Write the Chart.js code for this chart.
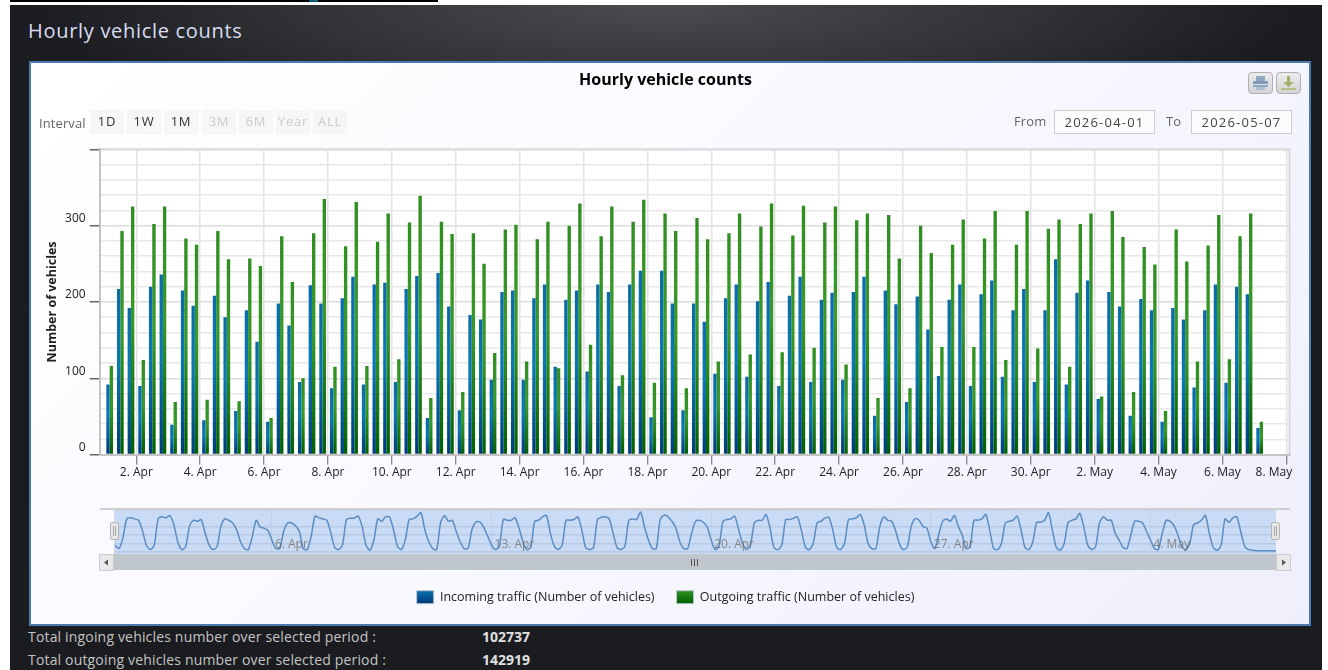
<!DOCTYPE html>
<html>
<head>
<meta charset="utf-8">
<title>Hourly vehicle counts</title>
<script src="https://cdn.jsdelivr.net/npm/chart.js@4"></script>
<style>
html, body { margin:0; padding:0; background:#fff; overflow:hidden; }
body { width:1328px; height:670px; position:relative; font-family:"Open Sans", sans-serif; }
div, span, canvas, svg { position:absolute; box-sizing:border-box; }
#topbar { left:10px; top:0; width:428px; height:2px; background:#000; }
#topmark { left:309px; top:0; width:9px; height:2px; background:#0d5a7a; }
#page { left:10px; top:5px; width:1312px; height:665px; background:radial-gradient(ellipse 640px 130px at 655px 0px, #4c4c50 0%, #303135 60%, #1b1c20 100%), #1b1c20; }
#head { left:28px; top:18px; font-size:20px; line-height:26px; color:#d9def2; white-space:nowrap; letter-spacing:0.7px; }
#panel { left:29px; top:61px; width:1282px; height:565px; border:2px solid #4a7bb0; background:linear-gradient(135deg, #ffffff 0%, #f8f8ff 50%, #efeffc 100%); }
#main { left:30px; top:62px; }
#navtop { left:100px; top:508px; width:1190px; height:2px; background:#cfcfcf; }
#navbg { left:114px; top:510px; width:1162px; height:44px; background:#c9dbf5; }
#nav { left:114.7px; top:510px; }
.hnd { top:522px; width:9px; height:18px; background:#e6e6e6; border:1px solid #b5b5b5; border-radius:2px; z-index:3; }
.hnd i { position:absolute; top:3px; width:1px; height:10px; background:#aaa; }
#track { left:114px; top:554px; width:1162px; height:16px; background:#bfc6cc; }
.sbtn { top:554px; width:15px; height:17px; background:#e9e9e9; border:1px solid #ccc; }
.grip { top:559px; width:1px; height:7px; background:#555; }
.lbl { font-size:13px; line-height:16px; color:#666; white-space:nowrap; letter-spacing:0.1px; }
.rbtn { top:110px; width:34px; height:24px; background:#f6f6f6; font-size:13px; line-height:23px; text-align:center; color:#333; letter-spacing:0.8px; }
.rbtn.off { color:#ccc; }
.dbox { top:110px; width:101px; height:24px; border:1px solid #ccc; font-size:13px; line-height:22px; text-align:center; color:#444; background:#fcfcff; letter-spacing:1.2px; }
.ico { top:72px; width:25px; height:22px; background:linear-gradient(#ececec,#d4d4d4); border:1px solid #b0b0b0; border-radius:4px; }
.sum { left:28px; font-size:14px; line-height:18px; color:#c4c4c4; white-space:nowrap; letter-spacing:0.17px; }
.val { left:482px; font-size:14px; line-height:18px; font-weight:bold; color:#e0e0e0; }
</style>
</head>
<body>
<div id="topbar"></div><div id="topmark"></div>
<div id="page"></div>
<div id="head">Hourly vehicle counts</div>
<div id="panel"></div>
<canvas id="main" width="1280" height="563"></canvas>

<div class="ico" style="left:1248px">
	<svg width="23" height="20" style="left:0;top:0"><rect x="7" y="3" width="9" height="5" fill="#8fa9c4"/><rect x="4" y="8" width="15" height="3" fill="#7f9bb8"/><rect x="4" y="12" width="15" height="2" fill="#8fa9c4"/><rect x="7" y="14" width="9" height="3" fill="#a9bfd4"/></svg>
</div>
<div class="ico" style="left:1276px">
	<svg width="23" height="20" style="left:0;top:0"><rect x="10" y="3" width="3" height="6" fill="#9fb06a"/><path d="M6 9h11l-5.5 5z" fill="#9fb06a"/><rect x="4" y="15" width="15" height="2" fill="#b3c184"/></svg>
</div>

<div class="lbl" style="left:39px;top:115px">Interval</div>
<div class="rbtn" style="left:90px">1D</div>
<div class="rbtn" style="left:127px">1W</div>
<div class="rbtn" style="left:164px">1M</div>
<div class="rbtn off" style="left:202px">3M</div>
<div class="rbtn off" style="left:239px">6M</div>
<div class="rbtn off" style="left:276px">Year</div>
<div class="rbtn off" style="left:313px">ALL</div>
<div class="lbl" style="left:1014px;top:113px">From</div>
<div class="dbox" style="left:1054px">2026-04-01</div>
<div class="lbl" style="left:1166px;top:113px">To</div>
<div class="dbox" style="left:1191px">2026-05-07</div>

<div id="navbg"></div>
<div id="navtop"></div>
<canvas id="nav" width="1161" height="56"></canvas>
<div id="track"></div>
<div class="sbtn" style="left:99px"><svg width="13" height="15" style="left:0;top:0"><path d="M4 7.5l4-3v6z" fill="#555"/></svg></div>
<div class="sbtn" style="left:1276px"><svg width="13" height="15" style="left:0;top:0"><path d="M9 7.5l-4-3v6z" fill="#555"/></svg></div>
<div class="grip" style="left:691px"></div><div class="grip" style="left:694px"></div><div class="grip" style="left:697px"></div>
<div class="hnd" style="left:110px"><i style="left:2px"></i><i style="left:4px"></i></div>
<div class="hnd" style="left:1271px"><i style="left:2px"></i><i style="left:4px"></i></div>

<div class="sum" style="top:628px">Total ingoing vehicles number over selected period :</div>
<div class="val" style="top:628px">102737</div>
<div class="sum" style="top:651px">Total outgoing vehicles number over selected period :</div>
<div class="val" style="top:651px">142919</div>

<script>
//8 hour groups
var incoming = [
	92,217,192, 90,220,236, 39,215,195, 45,208,180, 57,189,148, 43,198,169,
	95,222,198, 87,205,233, 92,223,225, 95,217,234, 48,238,194, 58,183,177,
	98,213,215, 98,205,223, 115,203,215, 109,223,213, 90,223,241, 49,241,198,
	58,198,174, 106,205,223, 102,201,226, 90,208,233, 95,203,212, 98,213,233,
	51,215,197, 69,207,164, 103,203,223, 90,210,228, 102,189,217, 95,189,256,
	92,212,228, 73,213,194, 51,204,189, 43,192,177, 88,189,223, 94,220,210, 35
];
var outgoing = [
	116,293,325, 124,302,325, 69,283,275, 72,293,256, 70,257,247, 48,286,226,
	100,290,335, 115,273,331, 116,279,316, 125,304,339, 74,305,289, 82,290,250,
	133,295,301, 122,282,305, 113,300,329, 144,286,325, 104,305,334, 94,316,293,
	87,310,282, 122,290,316, 131,299,329, 134,287,326, 140,304,325, 118,307,316,
	74,314,257, 87,300,264, 141,275,308, 141,283,319, 124,275,319, 139,296,308,
	115,302,316, 76,319,285, 82,272,249, 57,295,253, 122,274,314, 125,286,316, 43
];
var xTickLabels = [
	"2. Apr","4. Apr","6. Apr","8. Apr","10. Apr","12. Apr","14. Apr","16. Apr",
	"18. Apr","20. Apr","22. Apr","24. Apr","26. Apr","28. Apr","30. Apr",
	"2. May","4. May","6. May","8. May"
];
var legendNames = ["Incoming traffic (Number of vehicles)", "Outgoing traffic (Number of vehicles)"];

//navigator line, one sample every 3 hours
var navValues = [
	20,10,40,97,100,97,93,63, 20,7,20,97,103,100,107,80, 30,7,15,75,93,90,95,55,
	20,7,15,75,97,93,85,65, 30,10,7,45,93,73,70,63, 35,10,10,60,85,85,77,60,
	10,7,45,105,100,97,93,57, 13,7,20,95,99,99,105,75, 20,5,35,97,90,103,103,65,
	17,7,35,95,97,105,115,65, 30,10,7,85,107,90,93,60, 30,10,10,65,88,88,73,47,
	20,7,17,95,93,93,100,70, 30,7,15,90,93,103,107,55, 17,7,20,93,93,95,103,65,
	13,7,13,95,102,103,97,55, 13,7,17,93,97,95,117,73, 35,10,10,95,108,103,90,70,
	30,10,10,55,90,93,87,73, 35,7,17,90,95,97,105,65, 25,7,20,85,93,93,110,70,
	13,7,20,95,95,99,103,63, 15,7,25,85,90,99,101,65, 13,7,25,95,97,100,110,80,
	25,10,10,75,103,93,90,63, 23,7,15,75,98,93,75,70, 30,10,50,90,97,90,107,75,
	50,10,15,93,93,97,110,65, 10,7,25,85,90,93,105,65, 13,7,30,87,87,93,115,63,
	13,5,25,87,93,97,113,73, 20,7,15,85,103,93,93,55, 35,13,10,50,91,90,85,60,
	35,10,7,55,93,90,77,50, 15,7,25,80,85,93,107,55, 13,5,20,97,87,100,103,60,
	17,7,5,4,4,4,4,4, 4
];
var navTickLabels = ["6. Apr","13. Apr","20. Apr","27. Apr","4. May"];

var fontName = "'Open Sans', sans-serif";

function toPoints(values, first, step){
	var pts = [];
	values.forEach(function(v, i){ pts.push({x: first + i * step, y: v}); });
	return pts;
}

//every bar gets its own top to bottom gradient
function barFill(stops){
	return function(c){
		if(!c.parsed || !c.chart.scales.y) return stops[1];
		var y = c.chart.scales.y;
		var g = c.chart.ctx.createLinearGradient(0, y.getPixelForValue(c.parsed.y), 0, y.getPixelForValue(0));
		g.addColorStop(0, stops[0]);
		g.addColorStop(0.45, stops[1]);
		g.addColorStop(1, stops[2]);
		return g;
	};
}
var blueStops = ["#0b6ba8", "#0a78b4", "#003c7c"];
var greenStops = ["#2f8e20", "#399a28", "#006000"];

//white plot with a thin frame
var plotFrame = {
	id: "plotFrame",
	beforeDraw: function(chart){
		var a = chart.chartArea, ctx = chart.ctx;
		ctx.save();
		ctx.fillStyle = "#fff";
		ctx.fillRect(a.left, a.top, a.right - a.left, a.bottom - a.top);
		ctx.strokeStyle = "#d8d8d8";
		ctx.lineWidth = 2;
		ctx.beginPath();
		ctx.moveTo(a.left, a.top);
		ctx.lineTo(a.right, a.top);
		ctx.lineTo(a.right, a.bottom);
		ctx.stroke();
		ctx.restore();
	}
};

new Chart(document.getElementById("main"), {
	type: "bar",
	plugins: [plotFrame],
	data: {
		datasets: [
			{ label: legendNames[0], data: toPoints(incoming, 4, 8), backgroundColor: barFill(blueStops), categoryPercentage: 0.63, barPercentage: 1 },
			{ label: legendNames[1], data: toPoints(outgoing, 4, 8), backgroundColor: barFill(greenStops), categoryPercentage: 0.63, barPercentage: 1 }
		]
	},
	options: {
		responsive: false,
		animation: false,
		layout: { autoPadding: false, padding: { left: 11.5, right: 20.5, top: 0, bottom: 11.3 } },
		plugins: {
			tooltip: { enabled: false },
			title: {
				display: true,
				text: "Hourly vehicle counts",
				color: "#000",
				font: { family: fontName, size: 16, weight: "bold" },
				padding: { top: 8.4, bottom: 59.7 }
			},
			legend: {
				position: "bottom",
				labels: {
					boxWidth: 17,
					boxHeight: 13,
					padding: 22,
					color: "#222",
					font: { family: fontName, size: 12.5 },
					generateLabels: function(chart){
						var stops = [blueStops, greenStops];
						return legendNames.map(function(name, i){
							var g = chart.ctx.createLinearGradient(0, 527, 0, 541);
							g.addColorStop(0, stops[i][1]);
							g.addColorStop(1, stops[i][2]);
							return { text: name, fillStyle: g, strokeStyle: "#b9c4d0", lineWidth: 1, datasetIndex: i, fontColor: "#222" };
						});
					}
				}
			}
		},
		scales: {
			x: {
				type: "linear",
				min: -3.5,
				max: 890.4,
				offset: false,
				afterBuildTicks: function(scale){
					scale.ticks = xTickLabels.map(function(l, i){ return { value: 24 + 48 * i }; });
				},
				afterFit: function(scale){
					scale.height = 114.1;
					scale.paddingLeft = 0;
					scale.paddingRight = 0;
				},
				ticks: {
					autoSkip: false,
					maxRotation: 0,
					padding: 1,
					color: "#222",
					font: { family: fontName, size: 12 },
					callback: function(v, i){
						//last label is pushed left so it stays inside the plot
						return i == xTickLabels.length - 1 ? xTickLabels[i] + "        " : xTickLabels[i];
					}
				},
				grid: { offset: false, color: "#e2e2e2", lineWidth: 1.5, tickLength: 10, tickColor: "#666", tickWidth: 1 },
				border: { color: "#c4c4c4", width: 2 }
			},
			y: {
				min: 0,
				max: 400,
				afterFit: function(scale){ scale.width = 58.2; },
				title: {
					display: true,
					text: "Number of vehicles",
					color: "#222",
					font: { family: fontName, size: 12.5, weight: "bold" },
					padding: { top: 3, bottom: 0 }
				},
				ticks: {
					stepSize: 20,
					autoSkip: false,
					padding: 4,
					labelOffset: -7,
					color: "#222",
					font: { family: fontName, size: 12 },
					callback: function(v){ return (v % 100 == 0 && v < 400) ? v : ""; }
				},
				grid: {
					color: function(c){ return c.tick && c.tick.value % 100 == 0 ? "#dcdcdc" : "#e8e8e8"; },
					lineWidth: 1.5,
					tickLength: 10,
					tickWidth: 1.5,
					tickColor: function(c){ return c.tick && c.tick.value % 100 == 0 ? "#666" : "rgba(0,0,0,0)"; }
				},
				border: { color: "#c4c4c4", width: 2 }
			}
		}
	}
});

new Chart(document.getElementById("nav"), {
	type: "line",
	data: {
		datasets: [{
			data: toPoints(navValues, 0, 3),
			borderColor: "#5b8cc2",
			borderWidth: 1.5,
			pointRadius: 0,
			tension: 0.25
		}]
	},
	options: {
		responsive: false,
		animation: false,
		layout: { autoPadding: false, padding: 0 },
		plugins: { legend: { display: false }, tooltip: { enabled: false } },
		scales: {
			x: {
				type: "linear",
				min: 0,
				max: 888,
				afterBuildTicks: function(scale){
					scale.ticks = navTickLabels.map(function(l, i){ return { value: 120 + 168 * i }; });
				},
				afterFit: function(scale){
					scale.height = 14;
					scale.paddingLeft = 0;
					scale.paddingRight = 0;
				},
				ticks: {
					autoSkip: false,
					maxRotation: 0,
					align: "start",
					labelOffset: 3,
					mirror: true,
					padding: 0,
					z: 1,
					color: "rgba(110,105,95,0.75)",
					font: { family: fontName, size: 12 },
					callback: function(v, i){ return navTickLabels[i]; }
				},
				grid: { color: "rgba(165,180,205,0.25)", drawTicks: false },
				border: { display: false }
			},
			y: {
				min: 0,
				max: 123,
				afterFit: function(scale){ scale.width = 0; },
				ticks: { display: false, stepSize: 25 },
				grid: { color: "rgba(165,180,205,0.45)", lineWidth: 1.5, drawTicks: false },
				border: { display: false }
			}
		}
	}
});
</script>
</body>
</html>
